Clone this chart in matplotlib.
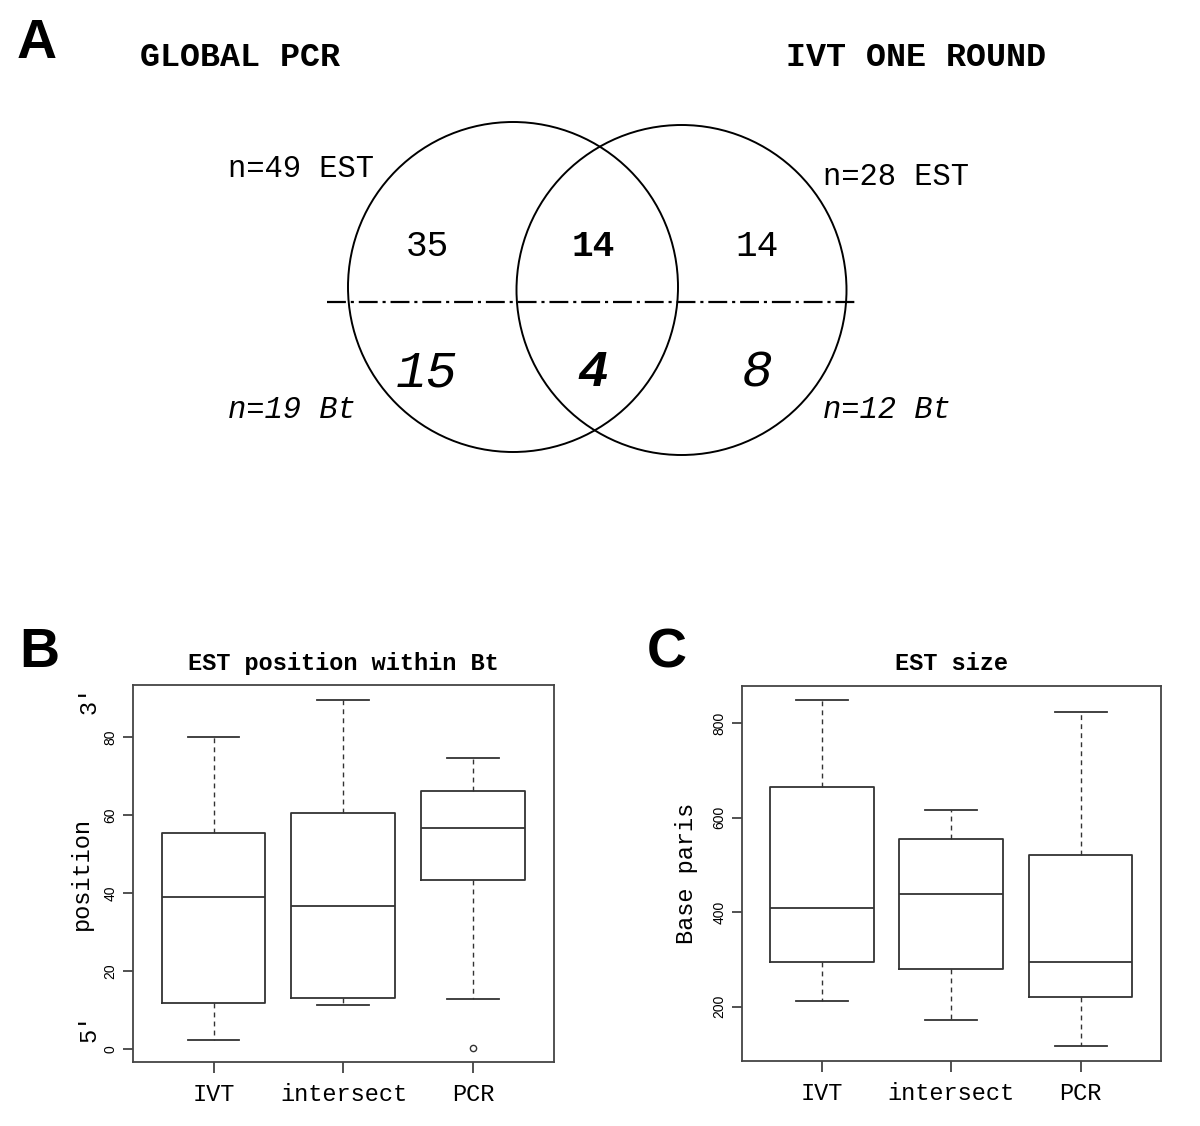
import numpy as np
import matplotlib.pyplot as plt
from matplotlib.patches import Circle

# ---- data ----
groups = ["IVT", "intersect", "PCR"]

# B: EST position within Bt (five-number summaries)
pos_low = [2.3, 11.3, 12.8]
pos_q1 = [11.9, 13.1, 43.4]
pos_med = [39.1, 36.8, 56.7]
pos_q3 = [55.3, 60.4, 66.2]
pos_high = [80.0, 89.5, 74.7]
pos_fliers = [[], [], [0.4]]

# C: EST size (base pairs)
size_low = [212.7, 171.8, 116.1]
size_q1 = [294.0, 280.5, 221.2]
size_med = [409.5, 439.1, 295.3]
size_q3 = [664.5, 554.4, 520.5]
size_high = [848.7, 615.8, 823.3]
size_fliers = [[], [], []]

# A: venn counts (PCR only, shared, IVT only)
venn_titles = ["GLOBAL PCR", "IVT ONE ROUND"]
n_est = [49, 28]
n_bt = [19, 12]
est_counts = [35, 14, 14]
bt_counts = [15, 4, 8]

MONO = ["Liberation Mono", "DejaVu Sans Mono"]
SANS = ["Liberation Sans", "DejaVu Sans"]
INK = "#333333"

W, H = 1200, 1126
fig = plt.figure(figsize=(W / 100, H / 100), dpi=100)

# ---- panel A: venn, drawn in pixel coordinates ----
av = fig.add_axes([0, 0, 1, 1])
av.set_xlim(0, W)
av.set_ylim(H, 0)
av.axis("off")

centers = [(513, 287), (681.5, 290)]
radius = 165
for cx, cy in centers:
    av.add_patch(Circle((cx, cy), radius, fill=False, ec="black", lw=1.4))
av.plot([327, 858], [301.5, 301.5], color="black", lw=1.6,
        linestyle=(0, (8.5, 2.2, 1.4, 2.2)))

region_x = [427, 593, 757]
for i, (x, c) in enumerate(zip(region_x, est_counts)):
    av.text(x, 247, str(c), ha="center", va="center", family=MONO, fontsize=26,
            fontweight="bold" if i == 1 else "normal")
for i, (x, c) in enumerate(zip(region_x, bt_counts)):
    av.text(x, 373, str(c), ha="center", va="center", family=MONO, fontsize=37,
            style="italic", fontweight="bold" if i == 1 else "normal")

for x, y, n in zip([228, 823], [169, 177], n_est):
    av.text(x, y, f"n={n} EST", ha="left", va="center", family=MONO, fontsize=22)
for x, n in zip([228, 823], n_bt):
    av.text(x, 410, f"n={n} Bt", ha="left", va="center", family=MONO,
            fontsize=22, style="italic")

for x, t in zip([240, 916], venn_titles):
    av.text(x, 57, t, ha="center", va="center", family=MONO,
            fontsize=24, fontweight="bold")

for letter, x, y in [("A", 17, 44), ("B", 19, 653), ("C", 647, 653)]:
    av.text(x, y, letter, ha="left", va="center", family=SANS, fontsize=40,
            fontweight="bold")


# ---- panels B and C: boxplots ----
def make_stats(low, q1, med, q3, high, fliers):
    return [dict(whislo=a, q1=b, med=c, q3=d, whishi=e, fliers=f)
            for a, b, c, d, e, f in zip(low, q1, med, q3, high, fliers)]


def draw_box(ax, stats, title, ylabel, ylim, yticks, label_x):
    ax.bxp(stats, positions=[1, 2, 3], widths=0.8, capwidths=0.4,
           boxprops=dict(color=INK, lw=1.3),
           whiskerprops=dict(color=INK, lw=1.0, linestyle=(0, (3.5, 3))),
           capprops=dict(color=INK, lw=1.3),
           medianprops=dict(color=INK, lw=1.3),
           flierprops=dict(marker="o", markerfacecolor="none",
                           markeredgecolor=INK, markersize=4.5, mew=1.0))
    ax.set_xlim(0.38, 3.62)
    ax.set_ylim(*ylim)
    ax.set_yticks(yticks)
    ax.set_yticklabels([str(t) for t in yticks], rotation=90, va="center",
                       family=SANS, fontsize=10)
    ax.set_xticks([1, 2, 3])
    ax.set_xticklabels(groups, family=MONO, fontsize=17)
    ax.tick_params(axis="x", length=8, width=1.2, color=INK, pad=7)
    ax.tick_params(axis="y", length=7, width=1.2, color=INK, pad=4)
    for s in ax.spines.values():
        s.set_color("#444444")
        s.set_linewidth(1.3)
    ax.set_title(title, family=MONO, fontsize=17, fontweight="bold", pad=11)
    ax.set_ylabel(ylabel, family=MONO, fontsize=17)
    ax.yaxis.set_label_coords(label_x, 0.5)


axB = fig.add_axes([0.1108, 0.0568, 0.3508, 0.3348])
draw_box(axB, make_stats(pos_low, pos_q1, pos_med, pos_q3, pos_high, pos_fliers),
         "EST position within Bt", "position", (-3.3, 93.3), [0, 20, 40, 60, 80], -0.095)
axB.text(-0.105, 0.96, "3\u2032", transform=axB.transAxes, rotation=90,
         ha="center", va="center", family=MONO, fontsize=17)
axB.text(-0.105, 0.09, "5\u2032", transform=axB.transAxes, rotation=90,
         ha="center", va="center", family=MONO, fontsize=17)

axC = fig.add_axes([0.618, 0.0577, 0.3494, 0.3333])
draw_box(axC, make_stats(size_low, size_q1, size_med, size_q3, size_high, size_fliers),
         "EST size", "Base paris", (85, 879.6), [200, 400, 600, 800], -0.104)

fig.savefig("out.png", dpi=100, facecolor="white")
